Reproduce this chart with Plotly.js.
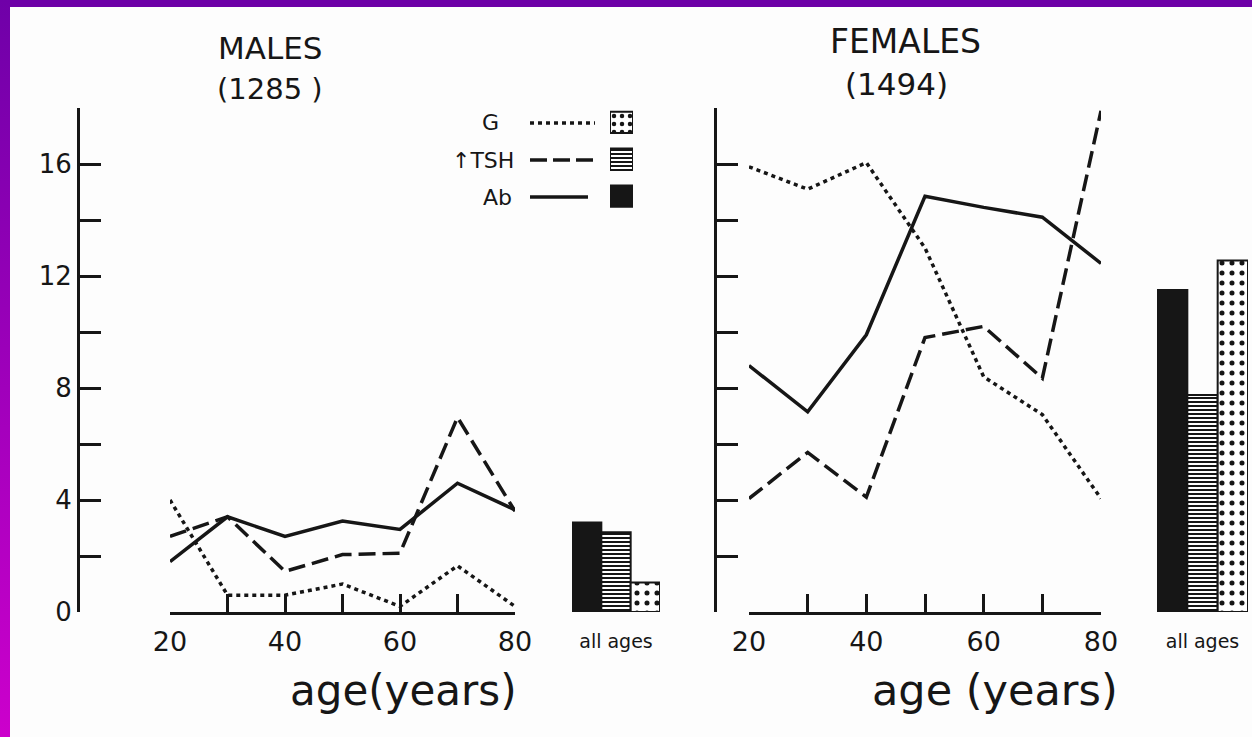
<!DOCTYPE html>
<html>
<head>
<meta charset="utf-8">
<script src="https://cdn.plot.ly/plotly-3.0.1.min.js"></script>
<style>
  html, body { margin: 0; padding: 0; background: #fdfdfd; }
  #wrap { position: relative; width: 1252px; height: 737px; overflow: hidden; background: #fdfdfd; }
  #topband { position: absolute; left: 0; top: 0; width: 1252px; height: 7px; background: #6d00a7; }
  #leftband { position: absolute; left: 0; top: 0; width: 10px; height: 737px; background: linear-gradient(#6f00a8, #cc00cc); }
  #chart { position: absolute; left: 0; top: 0; width: 1252px; height: 737px; }
</style>
</head>
<body>
<div id="wrap">
  <div id="topband"></div>
  <div id="leftband"></div>
  <div id="chart"></div>
</div>
<script>
// ---- data ----
const ages = [20, 30, 40, 50, 60, 70, 80];
const ageTickText = ['20', '', '40', '', '60', '', '80'];

const malesG   = [4.0, 0.6, 0.6, 1.0, 0.2, 1.65, 0.2];
const malesTSH = [2.7, 3.4, 1.45, 2.05, 2.1, 6.95, 3.6];
const malesAb  = [1.8, 3.4, 2.7, 3.25, 2.95, 4.6, 3.65];

const femalesG   = [15.9, 15.1, 16.05, 13.0, 8.4, 7.05, 4.05];
const femalesTSH = [4.05, 5.7, 4.1, 9.8, 10.2, 8.35, 17.9];
const femalesAb  = [8.8, 7.15, 9.9, 14.85, 14.45, 14.1, 12.45];

const barOrder = ['Ab', 'TSH', 'G'];
const allAgesMales   = [3.2, 2.85, 1.05];
const allAgesFemales = [11.5, 7.75, 12.55];

const yTickVals = [0, 2, 4, 6, 8, 10, 12, 14, 16, 18];
const yTickText = ['0', '', '4', '', '8', '', '12', '', '16', ''];

const titles = { males: 'MALES', malesN: '(1285 )', females: 'FEMALES', femalesN: '(1494)',
  xMales: 'age(years)', xFemales: 'age (years)', allAges: 'all ages' };
const legendLabels = { G: 'G', TSH: '↑TSH', Ab: 'Ab' };

// ---- styling ----
const INK = '#161616';
const FONT = 'DejaVu Sans, sans-serif';
const W = 1252, H = 737;
const px = v => v / W;
const py = v => 1 - v / H;

const dashOf = { G: '4px,4px', TSH: '17px,7px', Ab: 'solid' };
const patternOf = {
  Ab:  null,
  TSH: { shape: '-', fgcolor: INK, bgcolor: '#ffffff', size: 4, solidity: 0.5, fillmode: 'replace' },
  G:   { shape: '.', fgcolor: INK, bgcolor: '#ffffff', size: 10, solidity: 0.2, fillmode: 'replace' }
};

function lineTrace(y, key, xa, ya) {
  return { type: 'scatter', mode: 'lines', x: ages, y: y, xaxis: xa, yaxis: ya,
    line: { color: INK, width: 3.5, dash: dashOf[key] }, hoverinfo: 'skip' };
}
function barTraces(vals, xa, ya) {
  return barOrder.map((k, i) => {
    const m = { color: k === 'Ab' ? INK : '#ffffff', line: { color: INK, width: 2 } };
    if (patternOf[k]) m.pattern = Object.assign({}, patternOf[k]);
    return { type: 'bar', x: [i], y: [vals[i]], width: 1, xaxis: xa, yaxis: ya, marker: m, hoverinfo: 'skip' };
  });
}
function legendSwatches() {
  return barOrder.map((k, i) => {
    const m = { color: k === 'Ab' ? INK : '#ffffff', line: { color: INK, width: 2 } };
    if (patternOf[k]) m.pattern = Object.assign({}, patternOf[k], k === 'G' ? { size: 8, solidity: 0.25 } : {});
    return { type: 'bar', orientation: 'h', y: [i], x: [1], width: 0.58, xaxis: 'x5', yaxis: 'y3', marker: m, hoverinfo: 'skip' };
  });
}

const traces = [
  lineTrace(malesG, 'G', 'x', 'y'),
  lineTrace(malesTSH, 'TSH', 'x', 'y'),
  lineTrace(malesAb, 'Ab', 'x', 'y'),
  ...barTraces(allAgesMales, 'x2', 'y'),
  lineTrace(femalesG, 'G', 'x3', 'y2'),
  lineTrace(femalesTSH, 'TSH', 'x3', 'y2'),
  lineTrace(femalesAb, 'Ab', 'x3', 'y2'),
  ...barTraces(allAgesFemales, 'x4', 'y2'),
  ...legendSwatches()
];

const yDomain = [1 - 612 / H, 1 - 108 / H];
const baseX = { showgrid: false, zeroline: false, showline: true, linecolor: INK, linewidth: 3,
  ticks: 'inside', ticklen: 18, tickwidth: 3, tickcolor: INK, range: [20, 80],
  tickvals: ages, ticktext: ageTickText, ticklabelstandoff: 4, tickfont: { family: FONT, size: 27, color: INK } };
const baseY = { showgrid: false, zeroline: false, showline: true, linecolor: INK, linewidth: 3,
  ticks: 'inside', ticklen: 21, tickwidth: 3, tickcolor: INK, range: [0, 18], domain: yDomain,
  tickvals: yTickVals, anchor: 'free', tickfont: { family: FONT, size: 26, color: INK } };
const barX = { showgrid: false, zeroline: false, showline: false, ticks: '', range: [-0.5, 2.5],
  tickvals: [1], ticktext: [titles.allAges], ticklabelstandoff: 16, tickfont: { family: FONT, size: 19, color: INK } };

function note(text, x, y, size, xanchor) {
  return { text: text, x: px(x), y: py(y), xref: 'paper', yref: 'paper', showarrow: false,
    xanchor: xanchor || 'center', yanchor: 'middle', font: { family: FONT, size: size, color: INK } };
}

const layout = {
  width: W, height: H, margin: { l: 0, r: 0, t: 0, b: 0 },
  paper_bgcolor: 'rgba(0,0,0,0)', plot_bgcolor: 'rgba(0,0,0,0)',
  showlegend: false, bargap: 0, barmode: 'overlay',
  xaxis: Object.assign({}, baseX, { domain: [px(170), px(515)], anchor: 'y' }),
  yaxis: Object.assign({}, baseY, { position: px(78), ticktext: yTickText }),
  xaxis2: Object.assign({}, barX, { domain: [px(572), px(660)], anchor: 'y' }),
  xaxis3: Object.assign({}, baseX, { domain: [px(749), px(1101)], anchor: 'y2' }),
  yaxis2: Object.assign({}, baseY, { position: px(715), ticktext: yTickVals.map(() => '') }),
  xaxis4: Object.assign({}, barX, { domain: [px(1157), px(1248)], anchor: 'y2' }),
  xaxis5: { domain: [px(610), px(633)], range: [0, 1], anchor: 'y3', visible: false, fixedrange: true },
  yaxis3: { domain: [1 - 214.5 / H, 1 - 104 / H], range: [-0.5, 2.5], anchor: 'x5', visible: false, fixedrange: true },
  shapes: [
    { type: 'line', xref: 'paper', yref: 'paper', x0: px(530), x1: px(595), y0: py(123), y1: py(123), line: { color: INK, width: 3.5, dash: dashOf.G } },
    { type: 'line', xref: 'paper', yref: 'paper', x0: px(530), x1: px(597), y0: py(160), y1: py(160), line: { color: INK, width: 3.5, dash: '17px,6px' } },
    { type: 'line', xref: 'paper', yref: 'paper', x0: px(530), x1: px(588), y0: py(197), y1: py(197), line: { color: INK, width: 3.5 } }
  ],
  annotations: [
    note(titles.males, 270, 48, 31),
    note(titles.malesN, 270, 89, 29),
    note(titles.females, 905, 42, 33),
    note(titles.femalesN, 896, 84, 31),
    note(titles.xMales, 403, 690, 42),
    note(titles.xFemales, 995, 690, 43),
    note(legendLabels.G, 501, 122, 22, 'right'),
    note(legendLabels.TSH, 516, 160, 22, 'right'),
    note(legendLabels.Ab, 514, 197, 22, 'right')
  ]
};

Plotly.newPlot('chart', traces, layout, { staticPlot: true, displayModeBar: false });
</script>
</body>
</html>
